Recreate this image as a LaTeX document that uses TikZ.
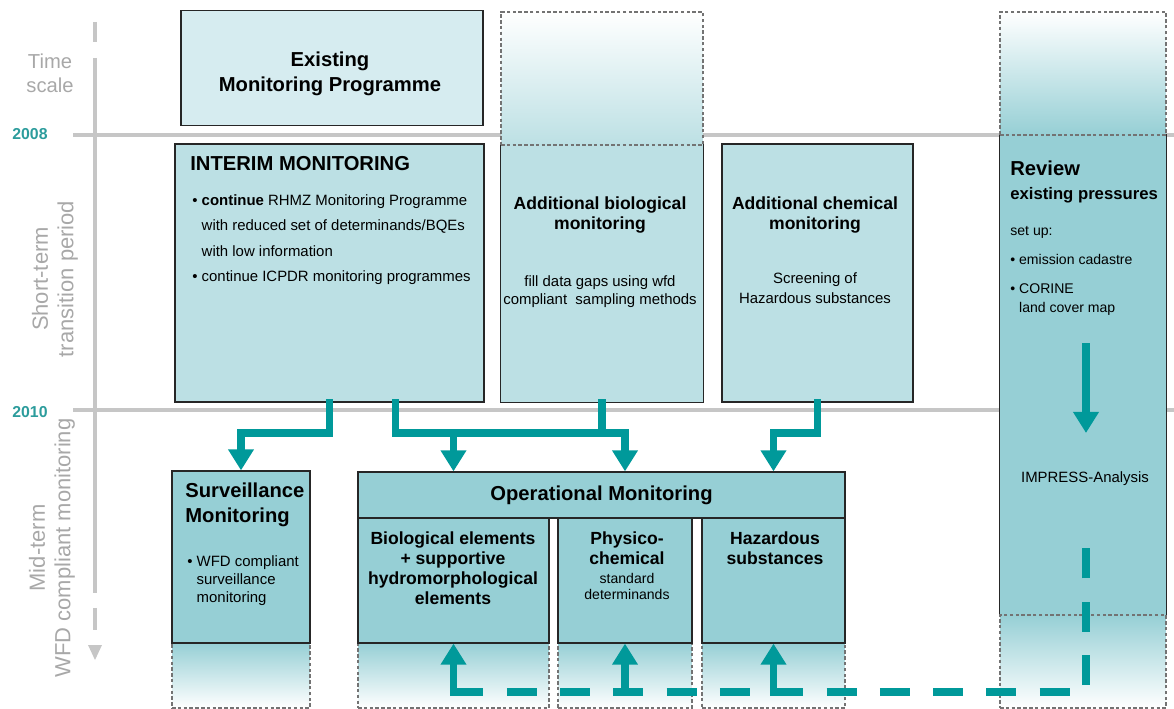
\documentclass[tikz,border=0pt]{standalone}
\usepackage{fontspec}
\setmainfont{Liberation Sans}
\usetikzlibrary{positioning,arrows.meta}

\definecolor{paleblue}{HTML}{D6ECF0}
\definecolor{lightblue}{HTML}{BCE0E4}
\definecolor{midblue}{HTML}{96CFD5}
\definecolor{flowteal}{HTML}{00999A}
\definecolor{axisgray}{HTML}{C6C6C6}
\definecolor{labelgray}{HTML}{A8A8A8}
\definecolor{yearteal}{HTML}{2C9C9C}

\begin{document}
\begin{tikzpicture}[
    x=0.02cm, y=-0.02cm,
    box/.style={draw=black!85, line width=0.7pt, fill=lightblue, inner sep=0pt},
    fadeup/.style={draw=black!55, line width=0.6pt, dash pattern=on 2pt off 1.3pt, top color=white, bottom color=#1, inner sep=0pt},
    fadedown/.style={draw=black!55, line width=0.6pt, dash pattern=on 2pt off 1.3pt, top color=#1, bottom color=white, inner sep=0pt},
    axis/.style={draw=axisgray, line width=2.4pt},
    axislabel/.style={text=labelgray, align=center, font=\fontsize{12.5}{14.5}\selectfont},
    year/.style={text=yearteal, font=\fontsize{9}{11}\selectfont\bfseries},
    link/.style={draw=flowteal, line width=4pt, line cap=rect},
    flow/.style={link, -{Triangle[width=14pt, length=12pt]}},
    feedback/.style={draw=flowteal, line width=4pt, dash pattern=on 0.6cm off 0.466cm},
    head/.style={inner sep=0pt, align=left, font=\fontsize{11.5}{14.2}\selectfont\bfseries},
    subhead/.style={inner sep=0pt, align=center, font=\fontsize{10}{11.5}\selectfont\bfseries},
    note/.style={inner sep=0pt, align=center, font=\fontsize{8.5}{10.2}\selectfont},
    edge/.style={draw=black!85, line width=0.7pt}
]
\useasboundingbox (0,0) rectangle (1174,709);

% time axis
\draw[axis] (73,135) -- (1174,135);
\draw[axis] (73,410) -- (1174,410);
\draw[axis] (95,22) -- (95,42);
\draw[axis] (95,58) -- (95,593);
\draw[axis] (95,608) -- (95,630);
\fill[axisgray] (88,645) -- (102,645) -- (95,660) -- cycle;

\node[axislabel, font=\fontsize{11.5}{13.6}\selectfont] (timescale) at (50,73) {Time\\scale};
\node[axislabel, rotate=90] (shortterm) at (55,279) {Short-term\\transition period};
\node[axislabel, rotate=90] (midterm) at (52,548) {Mid-term\\WFD compliant monitoring};
\node[year] (y2008) at (30,134) {2008};
\node[year] (y2010) at (30,412) {2010};

% faded continuations below
\node[fadedown=midblue, minimum width=2.76cm, minimum height=1.3cm] (survfade) at (241,675.5) {};
\node[fadedown=midblue, minimum width=3.82cm, minimum height=1.3cm] (bioelfade) at (453.5,675.5) {};
\node[fadedown=midblue, minimum width=2.68cm, minimum height=1.3cm] (physfade) at (625,675.5) {};
\node[fadedown=midblue, minimum width=2.86cm, minimum height=1.3cm] (hazfade) at (773.5,675.5) {};

% boxes
\node[box, fill=paleblue, minimum width=6.04cm, minimum height=2.3cm] (exist) at (332,68) {};
\node[box, minimum width=6.18cm, minimum height=5.16cm] (interim) at (329.5,273) {};
\node[box, draw=none, minimum width=4.04cm, minimum height=5.14cm] (addbio) at (602,273.5) {};
\draw[edge] (addbio.north west) |- (addbio.south east) -- (addbio.north east);
\node[box, minimum width=3.82cm, minimum height=5.16cm] (addchem) at (817.5,273) {};
\node[box, draw=none, fill=midblue, minimum width=3.32cm, minimum height=9.6cm] (review) at (1083,375) {};
\draw[edge] (review.north west) -- (review.south west) (review.north east) -- (review.south east);
\node[box, fill=midblue, minimum width=2.76cm, minimum height=3.44cm] (surv) at (241,557) {};
\node[box, fill=midblue, minimum width=9.74cm, minimum height=0.92cm,
      font=\fontsize{11.5}{14}\selectfont\bfseries] (oper) at (601.5,495) {Operational Monitoring};
\node[box, fill=midblue, minimum width=3.82cm, minimum height=2.5cm] (bioel) at (453.5,580.5) {};
\node[box, fill=midblue, minimum width=2.68cm, minimum height=2.5cm] (phys) at (625,580.5) {};
\node[box, fill=midblue, minimum width=2.86cm, minimum height=2.5cm] (haz) at (773.5,580.5) {};

% faded continuations above
\node[fadeup=lightblue, minimum width=4.04cm, minimum height=2.66cm] (biotop) at (602,78.5) {};
\node[fadeup=midblue, minimum width=3.32cm, minimum height=2.46cm] (revtop) at (1083,73.5) {};
\node[fadedown=midblue, minimum width=3.32cm, minimum height=1.86cm] (revbot) at (1083,661.5) {};

% flows
\coordinate (bus) at (0,433);
\coordinate (fb) at (0,692);
\coordinate (fbtop) at (1086,529);
\coordinate (revarrow) at (1086,347);

\draw[flow] (interim.south) -- (interim.south |- bus) -| (surv.north);
\draw[flow] ([xshift=1.32cm]interim.south) |- (bus -| phys) -- (oper.north -| phys);
\draw[link] (addbio.south) -- (addbio.south |- bus);
\draw[flow] (bus -| bioel) -- (oper.north -| bioel);
\draw[flow] (addchem.south) |- (bus -| haz) -- (oper.north -| haz);
\draw[flow] (revarrow) -- (revarrow |- bus);

\draw[feedback] (fb -| bioel) -| (fbtop);
\draw[flow] (fb -| bioel) -- (bioel.south);
\draw[flow] (fb -| phys) -- (phys.south);
\draw[flow] (fb -| haz) -- (haz.south);

% texts
\node[head, align=center, anchor=north] (existtxt) at (330,52) {Existing\\Monitoring Programme};

\node[head, anchor=north west] (interimhead) at (190,156) {INTERIM MONITORING};
\node[note, align=left, anchor=north west, font=\fontsize{8.5}{14.5}\selectfont] (interimlist) at (192,194)
  {\textbullet\ \textbf{continue} RHMZ Monitoring Programme\\
   \hphantom{\textbullet\ }with reduced set of determinands/BQEs\\
   \hphantom{\textbullet\ }with low information\\
   \textbullet\ continue ICPDR monitoring programmes};

\node[subhead, anchor=north] (addbiohead) at (600,196) {Additional biological\\monitoring};
\node[note, anchor=north] (addbionote) at (600,275) {fill data gaps using wfd\\compliant~ sampling methods};
\node[subhead, anchor=north] (addchemhead) at (815,196) {Additional chemical\\monitoring};
\node[note, anchor=north, font=\fontsize{8.5}{11.3}\selectfont] (addchemnote) at (815,272) {Screening of\\Hazardous substances};

\node[head, anchor=north west, font=\fontsize{9.5}{13.6}\selectfont\bfseries] (reviewhead) at (1010,161)
  {{\fontsize{11.5}{14}\selectfont Review}\\existing pressures};
\node[note, align=left, anchor=north west, font=\fontsize{8}{10.8}\selectfont] (reviewlist) at (1010,226)
  {set up:\\[6pt]
   \textbullet\ emission cadastre\\[5.5pt]
   \textbullet\ CORINE\\
   \hphantom{\textbullet\ }land cover map};
\node[note] (impress) at (1085,479) {IMPRESS-Analysis};

\node[head, anchor=north west] (survhead) at (185,483) {Surveillance\\Monitoring};
\node[note, align=left, anchor=north west] (survlist) at (187,555)
  {\textbullet\ WFD compliant\\
   \hphantom{\textbullet\ }surveillance\\
   \hphantom{\textbullet\ }monitoring};

\node[subhead, anchor=north] (bioeltxt) at (453,531) {Biological elements\\+ supportive\\hydromorphological\\elements};
\node[subhead, anchor=north] (physhead) at (627,531) {Physico-\\chemical};
\node[note, anchor=north, font=\fontsize{8}{9}\selectfont] (physnote) at (627,573) {standard\\determinands};
\node[subhead, anchor=north] (haztxt) at (775,531) {Hazardous\\substances};

\end{tikzpicture}
\end{document}
